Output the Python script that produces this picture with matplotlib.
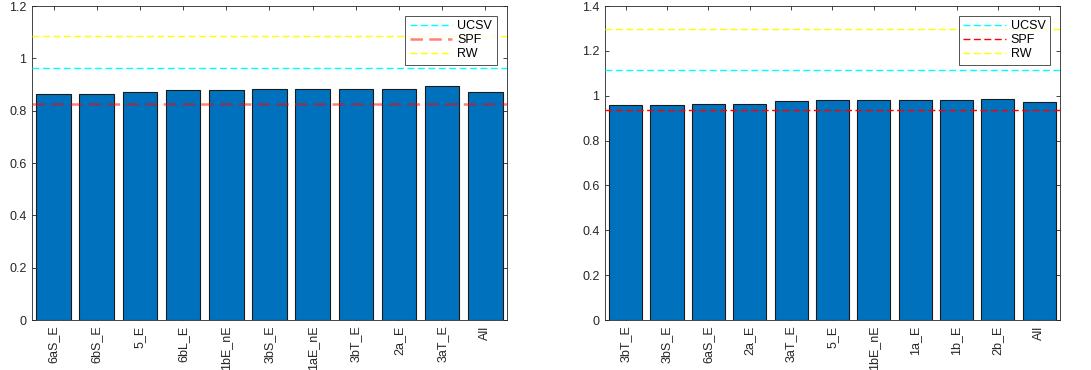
import numpy as np
import matplotlib
matplotlib.use("Agg")
import matplotlib.pyplot as plt

# left panel
labels_l = ["6aS_E", "6bS_E", "5_E", "6bL_E", "1bE_nE", "3bS_E", "1aE_nE", "3bT_E", "2a_E", "3aT_E", "All"]
vals_l = [0.862, 0.865, 0.870, 0.879, 0.879, 0.881, 0.881, 0.881, 0.884, 0.893, 0.871]
ucsv_l, spf_l, rw_l = 0.963, 0.825, 1.086

# right panel
labels_r = ["3bT_E", "3bS_E", "6aS_E", "2a_E", "3aT_E", "5_E", "1bE_nE", "1a_E", "1b_E", "2b_E", "All"]
vals_r = [0.957, 0.957, 0.963, 0.964, 0.977, 0.979, 0.980, 0.980, 0.982, 0.984, 0.972]
ucsv_r, spf_r, rw_r = 1.117, 0.936, 1.296

plt.rcParams['font.family'] = ['Liberation Sans', 'DejaVu Sans']

fig = plt.figure(figsize=(10.91, 3.70), dpi=100)
ax1 = fig.add_axes([0.0293, 0.1351, 0.4354, 0.8486])
ax2 = fig.add_axes([0.5545, 0.1351, 0.4170, 0.8486])

dash = (0, (5, 2.5))


def panel(ax, labels, vals, ucsv, spf, rw, ymax, spf_style):
    x = np.arange(1, len(vals) + 1)
    ax.bar(x, vals, width=0.8, color="#0072BD", edgecolor="#1a1a1a", linewidth=0.8, zorder=2)
    ax.axhline(ucsv, color="cyan", ls=dash, lw=1.0, label="UCSV", zorder=3)
    ax.axhline(spf, color="red", ls=dash, zorder=3, label="SPF", **spf_style)
    ax.axhline(rw, color="yellow", ls=dash, lw=1.0, label="RW", zorder=3)
    ax.set_xlim(0.5, len(vals) + 0.5)
    ax.set_ylim(0, ymax)
    ax.set_xticks(x)
    ax.set_xticklabels(labels, rotation=90, fontsize=9, color="#262626")
    yt = np.arange(0, ymax + 0.01, 0.2)
    ax.set_yticks(yt)
    ax.set_yticklabels(["%g" % round(v, 1) for v in yt], fontsize=9, color="#262626")
    ax.tick_params(direction="in", top=True, right=True, length=3, width=0.6,
                   color="#262626", pad=4)
    for s in ax.spines.values():
        s.set_color("#262626")
        s.set_linewidth(0.6)
    leg = ax.legend(loc="upper right", bbox_to_anchor=(0.978, 0.968), fontsize=9,
                    frameon=True, fancybox=False, edgecolor="#262626",
                    handlelength=3.4, borderpad=0.35, labelspacing=0.15, handletextpad=0.4,
                    borderaxespad=0)
    leg.get_frame().set_linewidth(0.7)


panel(ax1, labels_l, vals_l, ucsv_l, spf_l, rw_l, 1.2, dict(lw=1.8, alpha=0.5))
panel(ax2, labels_r, vals_r, ucsv_r, spf_r, rw_r, 1.4, dict(lw=1.0))

fig.savefig("out.png", dpi=100)
